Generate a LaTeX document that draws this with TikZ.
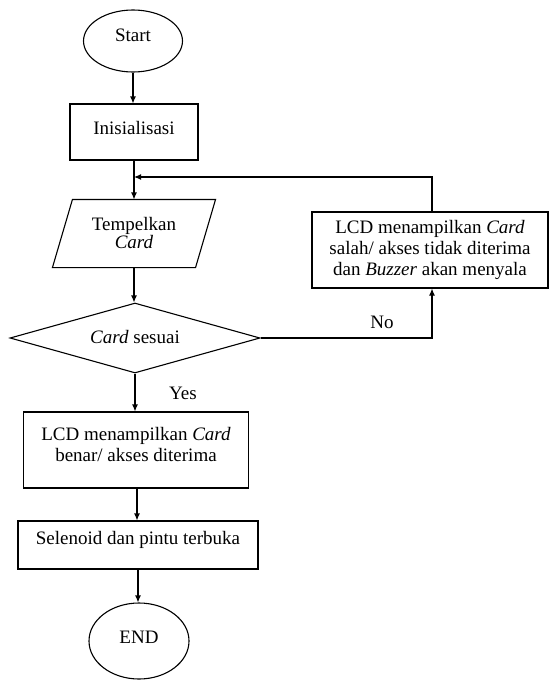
\documentclass[tikz,border=0pt]{standalone}
\usepackage{fontspec}
\setmainfont{Liberation Serif}
\usetikzlibrary{shapes.geometric,arrows.meta}
\newcommand\fsz{\fontsize{19pt}{21pt}\selectfont}
\newcommand\upby[2]{\raisebox{#1}[\height][\depth]{#2}}
\tikzset{
  outline/.style={draw=black, line width=1.1pt, line join=miter},
  shapebase/.style={outline, inner sep=0pt, font=\fsz},
  process/.style={shapebase, rectangle},
  terminal/.style={shapebase, ellipse},
  inout/.style={shapebase, draw=none, rectangle},
  decision/.style={shapebase, diamond, aspect=3.57},
  arr/.style={draw=black, line width=1.1pt, -{Latex[length=7pt,width=6pt]}},
  lbl/.style={font=\fsz, inner sep=0pt}
}
\begin{document}
\begin{tikzpicture}[x=1pt,y=-1pt]
\useasboundingbox (0,0) rectangle (549,680);
\node[terminal, minimum width=99pt, minimum height=62pt] (start) at (133,41) {\upby{6pt}{Start}};
\node[process, minimum width=128pt, minimum height=56pt] (init) at (134,132) {\upby{4pt}{Inisialisasi}};
\node[inout, minimum width=142pt, minimum height=67pt, align=center] (tempel) at (134,233.5) {Tempelkan\\[-3pt]\textit{Card}};
\draw[outline] ([xshift=10pt]tempel.north west) -- ([xshift=10pt]tempel.north east) -- ([xshift=-10pt]tempel.south east) -- ([xshift=-10pt]tempel.south west) -- cycle;
\node[decision, minimum width=250pt, minimum height=70pt] (cek) at (135,338) {\upby{1pt}{\textit{Card} sesuai}};
\node[process, minimum width=236pt, minimum height=76pt] (salah) at (430,250) {\begin{tabular}{@{}c@{}}LCD menampilkan \textit{Card}\\salah/ akses tidak diterima\\dan \textit{Buzzer} akan menyala\end{tabular}};
\node[process, minimum width=225pt, minimum height=76pt] (benar) at (136,450) {\upby{3.5pt}{\begin{tabular}{@{}c@{}}LCD menampilkan \textit{Card}\\benar/ akses diterima\end{tabular}}};
\node[process, minimum width=240pt, minimum height=48pt] (buka) at (138,545) {\upby{5pt}{Selenoid dan pintu terbuka}};
\node[terminal, minimum width=100pt, minimum height=76pt] (stop) at (139,641) {\upby{4pt}{END}};
\coordinate (join) at (134,177);
\node[lbl] (nolbl) at (382,322) {No};
\node[lbl] (yeslbl) at (183,393) {Yes};
\draw[arr] (start.south) -- (start.south |- init.north);
\draw[arr] (init.south) -- (tempel.north);
\draw[arr] (tempel.south) -- (tempel.south |- cek.north);
\draw[arr] (cek.south) -- (cek.south |- benar.north);
\draw[arr] ([xshift=1pt]benar.south) -- ([xshift=1pt]benar.south |- buka.north);
\draw[arr] (buka.south) -- (buka.south |- stop.north);
\draw[arr] (cek.east) -| ([xshift=2pt]salah.south);
\draw[arr] ([xshift=2pt]salah.north) |- (join);
\end{tikzpicture}
\end{document}
